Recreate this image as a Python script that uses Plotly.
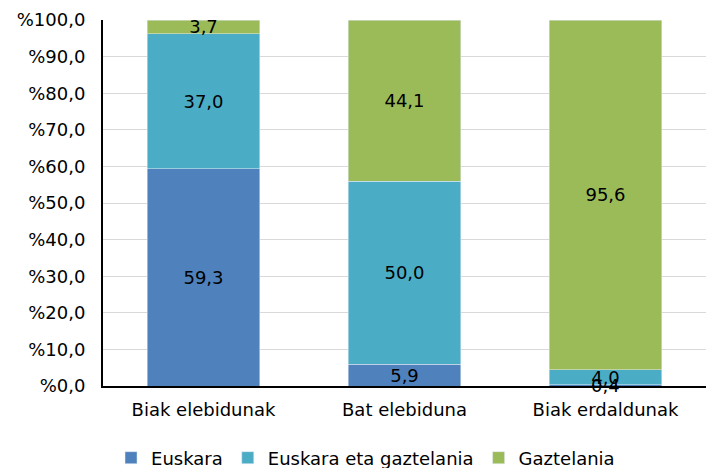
import plotly.graph_objects as go

categories = ["Biak elebidunak", "Bat elebiduna", "Biak erdaldunak"]
euskara = [59.3, 5.9, 0.4]
biak = [37.0, 50.0, 4.0]
gaztelania = [3.7, 44.1, 95.6]

series = [
    ("Euskara", euskara, "#4f81bd"),
    ("Euskara eta gaztelania", biak, "#4bacc6"),
    ("Gaztelania", gaztelania, "#9bbb59"),
]

fig = go.Figure()
base = [0.0] * len(categories)
for name, vals, col in series:
    fig.add_trace(go.Bar(
        x=categories, y=vals, name=name, marker_color=col,
        texttemplate="%{y:.1f}", textposition="inside",
        insidetextanchor="middle", constraintext="none",
        textfont=dict(color="black", size=18),
    ))
    # plotly drops text on very thin segments, so label those by hand
    for i, v in enumerate(vals):
        if v < 2:
            fig.add_annotation(x=categories[i], y=base[i] + v / 2,
                               text=f"{v:.1f}".replace(".", ","),
                               showarrow=False, font=dict(size=18, color="black"))
        base[i] += v

# page body has an 8px margin, margins below account for it
fig.update_layout(
    barmode="stack",
    bargap=0.44,
    separators=",.",
    width=716, height=468,
    margin=dict(l=95, r=18, t=12, b=90),
    paper_bgcolor="white", plot_bgcolor="white",
    font=dict(family="DejaVu Sans, Verdana, sans-serif", size=18, color="black"),
    legend=dict(orientation="h", x=0.0133, xanchor="left",
                yref="container", y=0.0385, yanchor="middle",
                font=dict(size=18), traceorder="normal"),
    yaxis=dict(range=[0, 100], dtick=10, tickprefix="%", tickformat=".1f",
               showgrid=True, gridcolor="#d9d9d9", gridwidth=1,
               showline=True, linecolor="black", linewidth=2,
               ticks="", zeroline=False, automargin=False,
               ticklabelstandoff=12),
    xaxis=dict(showline=True, linecolor="black", linewidth=2, ticks="",
               automargin=False, ticklabelstandoff=6),
)

fig.write_html("out.html")
